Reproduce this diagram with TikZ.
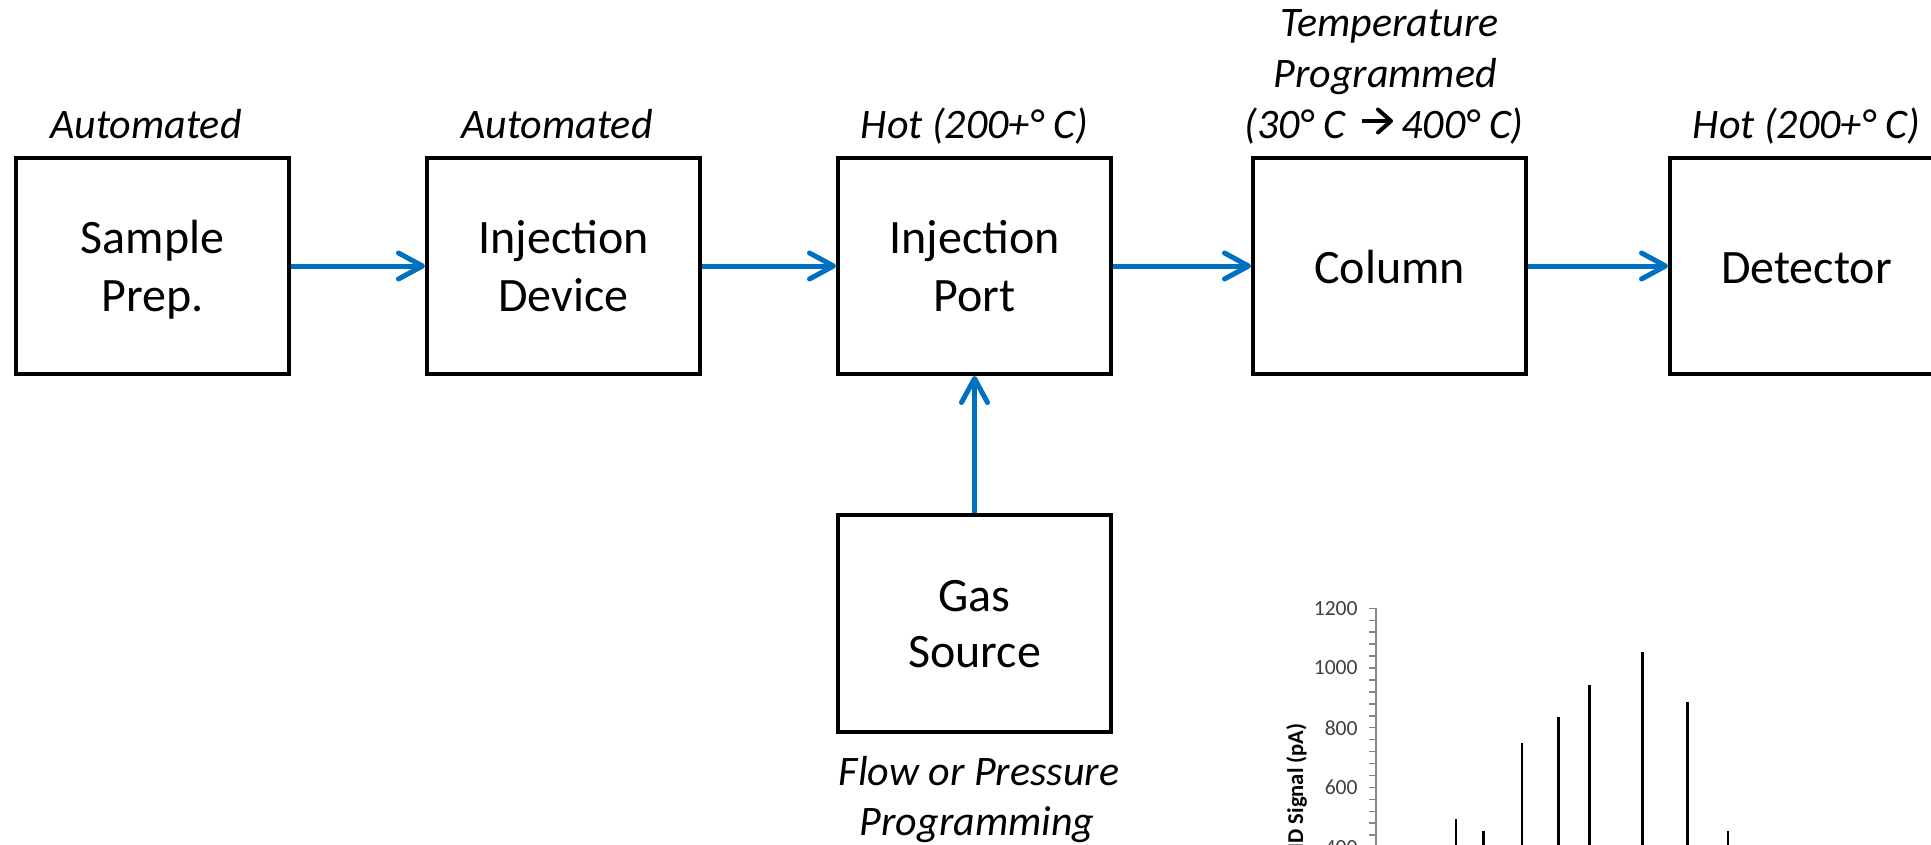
\documentclass[tikz,border=0pt]{standalone}
\usepackage{fontspec}
\setmainfont{Carlito}
\usetikzlibrary{arrows.meta}
\definecolor{flowblue}{HTML}{0070C0}
\definecolor{axisgray}{HTML}{868686}
\definecolor{ticktext}{HTML}{404040}

\begin{document}
\begin{tikzpicture}[x=0.5pt,y=-0.5pt,
  unitbox/.style={draw=black, line width=2pt, minimum width=136.5pt,
    minimum height=108pt, inner sep=0pt},
  boxtext/.style={font=\fontsize{24}{28.5}\selectfont, anchor=base, inner sep=0pt},
  note/.style={font=\fontsize{21}{25.5}\selectfont\itshape, anchor=base, inner sep=0pt},
  flow/.style={draw=flowblue, line width=2.5pt,
    -{Straight Barb[length=12pt,width=13pt,round]}},
  textarrow/.style={draw=black, line width=2pt,
    -{Straight Barb[length=6.5pt,width=11.5pt,round]}},
  peak/.style={draw=black, line width=1.2pt},
  axisline/.style={draw=axisgray, line width=0.75pt},
  ticklabel/.style={font=\fontsize{10.8}{12}\selectfont, text=ticktext,
    anchor=east, inner sep=0pt},
  axistitle/.style={font=\fontsize{11.3}{13}\selectfont\bfseries, rotate=90,
    anchor=base east, inner sep=0pt},
]
\useasboundingbox (0,0) rectangle (1931,845);
\clip (0,0) rectangle (1931,845);

% process units
\node[unitbox] (prep) at (152.5,266) {};
\node[unitbox] (dev)  at (563.5,266) {};
\node[unitbox] (port) at (974.5,266) {};
\node[unitbox] (col)  at (1389.5,266) {};
\node[unitbox] (det)  at (1806.5,266) {};
\node[unitbox, minimum height=108.5pt] (gas) at (974.5,623.5) {};

% unit names
\node[boxtext] (prepA) at (152.5,254) {Sample};
\node[boxtext] (prepB) at (152.5,311) {Prep.};
\node[boxtext] (devA)  at (563.5,254) {Injection};
\node[boxtext] (devB)  at (563.5,311) {Device};
\node[boxtext] (portA) at (974.5,254) {Injection};
\node[boxtext] (portB) at (974.5,311) {Port};
\node[boxtext] (colA)  at (1389.5,283) {Column};
\node[boxtext] (detA)  at (1806.5,283) {Detector};
\node[boxtext] (gasA)  at (974.5,611) {Gas};
\node[boxtext] (gasB)  at (974.5,667) {Source};

% operating conditions
\node[note] (prepN) at (146,139) {Automated};
\node[note] (devN)  at (557,139) {Automated};
\node[note] (portN) at (974.5,139) {Hot (200+° C)};
\node[note] (colN1) at (1389.5,37) {Temperature};
\node[note] (colN2) at (1385,88) {Programmed};
\node[note, anchor=base east] (colN3a) at (1346,139) {(30° C};
\node[note, anchor=base west] (colN3b) at (1401,139) {400° C)};
\draw[textarrow] ([xshift=8pt,yshift=9pt]colN3a.base east)
  -- ([xshift=-4pt,yshift=9pt]colN3b.base west);
\node[note] (detN)  at (1806.5,139) {Hot (200+° C)};
\node[note] (gasN1) at (979,785) {Flow or Pressure};
\node[note] (gasN2) at (977,835) {Programming};

% flow path
\draw[flow] (prep.east) -- (dev.west);
\draw[flow] (dev.east) -- (port.west);
\draw[flow] (port.east) -- (col.west);
\draw[flow] (col.east) -- (det.west);
\draw[flow] (gas.north) -- (port.south);

% chromatogram: signal axis
\draw[axisline] (1376,608.3) -- (1376,900);
\foreach \v in {400,440,...,1200}
  \draw[axisline] (1369,{966.5-0.2985*\v}) -- (1376,{966.5-0.2985*\v});
\foreach \v in {400,600,...,1200}
  \node[ticklabel] (tick\v) at (1358,{966.5-0.2985*\v}) {\v};
\node[axistitle] (ytitle) at (1303,723) {FID Signal (pA)};

% chromatogram: peaks
\foreach \px/\pv in {1455.7/493, 1483.3/455, 1522/748, 1558.3/836,
                     1589.3/943, 1642.3/1053, 1687.3/887, 1728/454}
  \draw[peak] (\px,900) -- (\px,{966.5-0.2985*\pv});
\end{tikzpicture}
\end{document}
